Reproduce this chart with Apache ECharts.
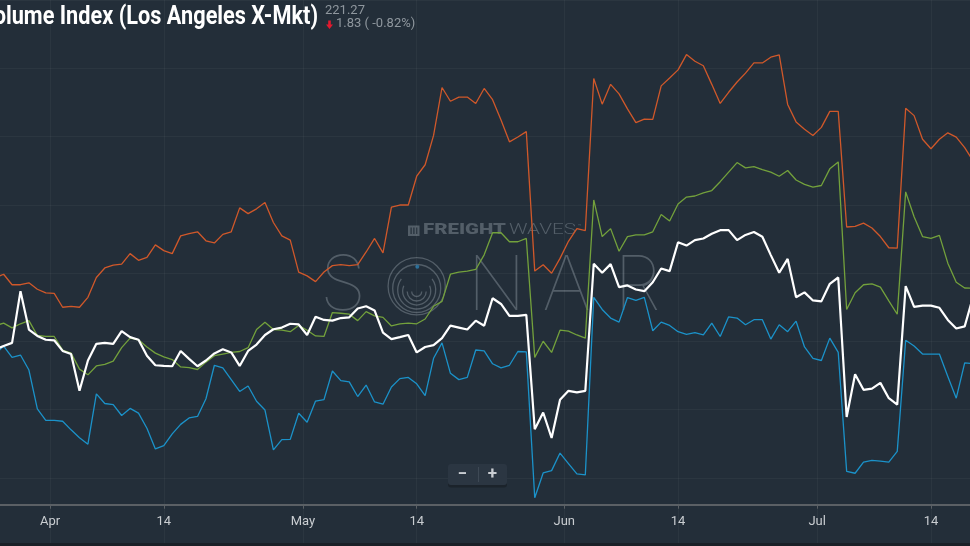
<!DOCTYPE html>
<html>
<head>
<meta charset="utf-8">
<script src="https://cdn.jsdelivr.net/npm/echarts@6/dist/echarts.min.js"></script>
<style>
html,body{margin:0;padding:0;background:#232e39;}
#chart{width:970px;height:546px;}
</style>
</head>
<body>
<div id="chart"></div>
<script>
// ---- data (daily, first point = 2021-03-25) ----
const firstDate = '2021-03-25';
const orange = [196.5,199.1,191.4,191.4,192.8,188.1,185.5,185.1,174.9,175.6,
174.9,182.2,196.7,203.7,205.8,206.5,214.2,209.3,211.4,220.6,
216.4,214.2,227.2,228.8,230.2,223.6,222.0,228.3,230.2,247.7,
243.5,247.0,251.7,237.0,227.2,224.1,200.7,197.9,193.7,200.7,
205.4,206.1,205.4,206.1,215.4,225.3,214.7,248.2,249.8,249.8,
270.9,279.3,300.8,335.9,325.8,328.9,328.9,324.2,335.2,327.0,
312.1,296.1,299.6,303.6,201.4,206.1,199.8,210.7,223.2,232.5,
231.1,342.5,323.7,338.2,331.2,320.2,310.2,312.8,312.5,337.1,
342.9,348.8,360.0,355.1,351.8,338.2,324.2,332.4,339.9,346.4,
353.9,353.9,358.1,359.8,323.5,310.7,305.3,300.8,306.7,318.4,
318.4,233.7,234.2,236.5,233.0,226.7,218.5,218.2,320.7,315.3,
298.0,291.0,298.0,302.7,299.6,291.9,282.1];
const green = [161.4,163.3,159.8,162.8,165.1,154.2,153.5,153.5,143.6,141.3,
129.6,125.4,131.9,133.1,135.4,145.3,152.3,151.1,145.8,141.3,
138.6,136.6,131.2,130.7,129.3,134.7,139.4,140.6,141.8,142.5,
145.3,158.6,164.0,158.6,158.1,157.0,161.6,158.1,153.9,153.5,
171.0,170.5,169.8,165.1,171.7,168.6,167.5,161.2,162.8,163.3,
162.8,166.3,175.6,179.2,199.1,200.7,201.4,202.6,213.3,229.5,
229.5,222.9,222.9,225.3,138.2,150.0,141.8,158.1,157.4,154.6,
152.3,253.5,226.7,232.5,215.9,226.7,227.9,227.9,230.2,242.8,
238.1,250.5,255.6,256.4,258.7,260.4,266.9,273.9,280.9,277.0,
277.9,275.8,273.9,270.9,275.1,268.1,264.9,262.9,264.1,276.3,
281.4,173.3,185.5,191.4,192.1,189.7,179.6,169.8,259.4,241.2,
226.7,225.3,227.6,207.2,193.2,189.0,188.8];
const white = [143.9,146.5,148.8,186.7,158.6,153.9,151.1,150.7,142.9,140.6,
113.7,135.9,148.1,148.8,148.1,157.4,153.0,151.1,139.4,132.4,
131.9,131.7,142.9,137.1,131.7,135.9,141.1,144.1,141.8,131.9,
142.9,147.6,154.6,158.8,160.0,162.8,162.3,154.6,167.9,165.6,
165.1,167.0,167.5,174.0,175.6,172.6,156.3,151.6,153.0,154.6,
141.8,145.8,147.2,152.3,161.4,160.0,158.6,165.1,161.4,181.5,
177.3,168.6,168.6,169.3,85.6,97.8,79.1,107.2,113.7,112.5,
113.7,206.8,200.2,206.5,189.7,190.9,187.9,186.7,193.2,203.3,
201.4,222.5,220.1,224.1,225.3,228.8,231.4,231.4,224.1,227.9,
230.0,226.5,213.1,200.2,210.3,182.2,185.8,179.9,179.2,192.1,
196.7,94.5,125.8,114.4,115.3,119.5,108.3,103.6,190.4,175.2,
176.1,176.1,174.5,165.6,159.3,160.9,182.7];
const blue = [140.4,146.5,138.2,139.9,128.9,100.4,92.1,92.1,91.4,85.1,
79.3,74.6,111.4,104.4,103.6,95.6,100.8,97.3,86.3,71.1,
73.5,82.1,89.1,93.8,94.9,107.9,132.4,130.5,121.9,113.2,
117.2,106.0,99.6,70.4,77.9,78.1,97.3,90.7,106.2,107.2,
128.2,121.2,120.2,109.5,117.9,105.5,103.9,116.5,122.6,123.5,
118.8,110.2,137.5,148.8,126.5,121.9,123.5,143.6,142.9,133.5,
130.5,132.4,142.5,142.2,35.3,53.5,55.2,68.1,60.4,52.8,
52.1,182.2,173.3,167.0,164.0,182.0,179.9,182.2,157.7,164.0,
161.6,157.0,155.1,156.3,154.6,163.3,153.5,167.9,167.0,162.1,
165.8,165.8,151.6,162.1,157.0,164.7,145.8,137.5,135.9,152.3,
141.8,54.7,53.3,61.5,62.7,62.2,61.5,69.3,150.7,146.5,
140.6,140.6,140.6,124.2,108.3,134.2,133.5];
const tickDates = ['2021-04-01T00:00','2021-04-14T12:00','2021-05-01T00:00','2021-05-14T12:00',
                   '2021-06-01T00:00','2021-06-14T12:00','2021-07-01T00:00','2021-07-14T12:00'];
const tickLabels = ['Apr','14','May','14','Jun','14','Jul','14'];
const titleText = 'Volume Index (Los Angeles X-Mkt)';
const lastValue = '221.27';
const changeText = '1.83 ( -0.82%)';

// ---- build ----
const DAY = 86400000;
const utc = s => Date.parse(s + (s.length === 10 ? 'T12:00:00Z' : ':00Z'));
const t0 = utc(firstDate);
const times = orange.map((_, i) => t0 + i * DAY);
const tickTimes = tickDates.map(utc);
const apr1 = tickTimes[0];
const viewMin = apr1 - 5.93 * DAY;
const viewMax = apr1 + 109.13 * DAY;
const pair = arr => arr.map((v, i) => [times[i], v]);

const axisGray = '#5b6065';
const wm = '#535e68';
const gridColor = 'rgba(255,255,255,0.04)';
const arcStyle = {fill: 'none', stroke: wm, lineWidth: 1.3};

const chart = echarts.init(document.getElementById('chart'), null, {renderer: 'canvas'});
chart.setOption({
  backgroundColor: '#232e39',
  animation: false,
  grid: {left: 0, right: 0, top: -18, bottom: -6, containLabel: false},
  xAxis: {
    type: 'value', min: viewMin, max: viewMax, offset: -41.3, scale: true,
    axisLine: {show: true, lineStyle: {color: axisGray, width: 2}},
    axisTick: {show: true, customValues: tickTimes, length: 4, lineStyle: {color: axisGray, width: 1}},
    axisLabel: {
      customValues: tickTimes, color: '#c9cdd1', fontSize: 13, fontFamily: 'Roboto', margin: 11,
      showMinLabel: true, showMaxLabel: true,
      formatter: v => { const i = tickTimes.indexOf(v); return i >= 0 ? tickLabels[i] : ''; }
    },
    splitLine: {show: true, lineStyle: {color: gridColor, width: 1}}
  },
  yAxis: {
    type: 'value', min: 0, max: 400, interval: 50,
    axisLine: {show: false}, axisTick: {show: false}, axisLabel: {show: false},
    splitLine: {show: true, lineStyle: {color: gridColor, width: 1}}
  },
  series: [
    {type: 'line', data: pair(orange), showSymbol: false, lineStyle: {color: '#d0582a', width: 1.3}, itemStyle: {color: '#d0582a'}},
    {type: 'line', data: pair(green), showSymbol: false, lineStyle: {color: '#73a13c', width: 1.3}, itemStyle: {color: '#73a13c'}},
    {type: 'line', data: pair(blue), showSymbol: false, lineStyle: {color: '#1b92c9', width: 1.3}, itemStyle: {color: '#1b92c9'}},
    {type: 'line', data: pair(white), showSymbol: false, lineStyle: {color: '#ffffff', width: 2.2}, itemStyle: {color: '#ffffff'}}
  ],
  graphic: [
    {type: 'group', z: 0, silent: true, children: [
      {type: 'rect', shape: {x: 408, y: 225.5, width: 11.5, height: 10.5}, style: {fill: wm}},
      {type: 'rect', shape: {x: 410.5, y: 227.5, width: 1.2, height: 6.5}, style: {fill: '#232e39'}},
      {type: 'rect', shape: {x: 413.3, y: 227.5, width: 1.2, height: 6.5}, style: {fill: '#232e39'}},
      {type: 'rect', shape: {x: 416.1, y: 227.5, width: 1.2, height: 6.5}, style: {fill: '#232e39'}},
      {type: 'text', x: 423, y: 230.6, scaleX: 1.36, style: {text: 'FREIGHT', font: '900 15px Roboto', fill: wm, verticalAlign: 'middle', align: 'left'}},
      {type: 'text', x: 509, y: 230.6, scaleX: 1.38, style: {text: 'WAVES', font: '300 15px Roboto', fill: wm, verticalAlign: 'middle', align: 'left'}},
      {type: 'text', x: 578, y: 226, style: {text: '™', font: '6px Roboto', fill: wm, verticalAlign: 'middle', align: 'left'}},
      {type: 'text', x: 343, y: 287.5, style: {text: 'S', font: '100 76px Inter', fill: wm, verticalAlign: 'middle', align: 'center'}},
      {type: 'text', x: 496.5, y: 287.5, style: {text: 'N', font: '100 76px Inter', fill: wm, verticalAlign: 'middle', align: 'center'}},
      {type: 'text', x: 566.5, y: 287.5, style: {text: 'A', font: '100 76px Inter', fill: wm, verticalAlign: 'middle', align: 'center'}},
      {type: 'text', x: 637.5, y: 287.5, style: {text: 'R', font: '100 76px Inter', fill: wm, verticalAlign: 'middle', align: 'center'}},
      {type: 'circle', shape: {cx: 416.7, cy: 286.3, r: 28.6}, style: arcStyle},
      {type: 'circle', shape: {cx: 416.7, cy: 288.5, r: 24}, style: arcStyle},
      {type: 'arc', shape: {cx: 416.7, cy: 290, r: 19, startAngle: -Math.PI / 5, endAngle: Math.PI + Math.PI / 5, clockwise: true}, style: arcStyle},
      {type: 'arc', shape: {cx: 416.7, cy: 291, r: 14, startAngle: -Math.PI / 8, endAngle: Math.PI + Math.PI / 8, clockwise: true}, style: arcStyle},
      {type: 'arc', shape: {cx: 416.7, cy: 291.5, r: 9.5, startAngle: 0, endAngle: Math.PI, clockwise: true}, style: arcStyle},
      {type: 'arc', shape: {cx: 416.7, cy: 291.5, r: 5, startAngle: 0, endAngle: Math.PI, clockwise: true}, style: arcStyle},
      {type: 'circle', shape: {cx: 417.3, cy: 266.7, r: 2}, style: {fill: '#2a6e98'}}
    ]},
    {type: 'text', x: 318, y: 17.8, scaleX: 0.835, z: 100, style: {text: titleText, font: 'bold 26px Roboto', fill: '#ffffff', align: 'right', verticalAlign: 'middle'}},
    {type: 'text', x: 325, y: 10.6, z: 100, style: {text: lastValue, font: '13px Roboto', fill: '#8f979e', align: 'left', verticalAlign: 'middle'}},
    {type: 'text', x: 336, y: 23.9, z: 100, style: {text: changeText, font: '13px Roboto', fill: '#8f979e', align: 'left', verticalAlign: 'middle'}},
    {type: 'polygon', z: 100, shape: {points: [[328.2, 20.5], [330.8, 20.5], [330.8, 24.5], [333, 24.5], [329.5, 29], [326, 24.5], [328.2, 24.5]]}, style: {fill: '#e3192e'}},
    {type: 'rect', z: 100, shape: {x: 448, y: 466.5, width: 59, height: 21, r: 3}, style: {fill: '#1b232b'}},
    {type: 'rect', z: 101, shape: {x: 448, y: 464, width: 59, height: 21, r: 3}, style: {fill: '#2b3642'}},
    {type: 'line', z: 102, shape: {x1: 478.5, y1: 467, x2: 478.5, y2: 482}, style: {stroke: '#3e4955', lineWidth: 1}},
    {type: 'text', z: 102, x: 462.5, y: 474.5, style: {text: '−', font: 'bold 17px Roboto', fill: '#c9cdd2', align: 'center', verticalAlign: 'middle'}},
    {type: 'text', z: 102, x: 492.5, y: 474.5, style: {text: '+', font: 'bold 17px Roboto', fill: '#c9cdd2', align: 'center', verticalAlign: 'middle'}},
    {type: 'rect', z: 100, shape: {x: 0, y: 543, width: 970, height: 3}, style: {fill: '#1a2027'}}
  ]
});
</script>
</body>
</html>
